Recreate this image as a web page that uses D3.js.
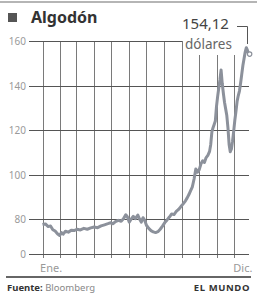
<!DOCTYPE html>
<html><head><meta charset="utf-8">
<script src="https://cdn.jsdelivr.net/npm/d3@7"></script>
<style>
html,body{margin:0;padding:0;background:#fff;}
svg{display:block;}
text{font-family:"Noto Sans","Open Sans",sans-serif;}
</style></head>
<body>
<svg id="c" width="257" height="302"></svg>
<script>
const title = "Algodón";
const endLabel = "154,12";
const unitLabel = "dólares";
const source = "Bloomberg";
const brand = "EL MUNDO";
const tickValues = [0, 80, 100, 120, 140, 160];
const monthLabels = [{date:"2010-01-16", text:"Ene."}, {date:"2010-12-16", text:"Dic."}];
const dates = ["2010-01-01","2010-01-06","2010-01-11","2010-01-15","2010-01-19","2010-01-23","2010-01-27","2010-01-31","2010-02-03","2010-02-06","2010-02-10","2010-02-15","2010-02-20","2010-02-25","2010-03-02","2010-03-08","2010-03-14","2010-03-20","2010-03-26","2010-04-01","2010-04-07","2010-04-13","2010-04-19","2010-04-25","2010-04-29","2010-05-04","2010-05-08","2010-05-13","2010-05-18","2010-05-22","2010-05-26","2010-05-29","2010-06-01","2010-06-04","2010-06-08","2010-06-12","2010-06-16","2010-06-19","2010-06-22","2010-06-25","2010-06-28","2010-07-01","2010-07-05","2010-07-09","2010-07-13","2010-07-17","2010-07-21","2010-07-25","2010-07-29","2010-08-02","2010-08-06","2010-08-10","2010-08-14","2010-08-18","2010-08-22","2010-08-26","2010-08-30","2010-09-03","2010-09-07","2010-09-10","2010-09-13","2010-09-16","2010-09-19","2010-09-22","2010-09-25","2010-09-28","2010-10-01","2010-10-04","2010-10-07","2010-10-10","2010-10-13","2010-10-16","2010-10-19","2010-10-21","2010-10-23","2010-10-25","2010-10-27","2010-10-29","2010-10-31","2010-11-02","2010-11-04","2010-11-06","2010-11-08","2010-11-10","2010-11-12","2010-11-14","2010-11-16","2010-11-18","2010-11-20","2010-11-22","2010-11-24","2010-11-26","2010-11-28","2010-11-30","2010-12-02","2010-12-04","2010-12-06","2010-12-08","2010-12-10","2010-12-12","2010-12-14","2010-12-16","2010-12-18","2010-12-20","2010-12-22","2010-12-24","2010-12-26"];
const prices = [77.5,77.8,76.6,76.9,75.2,74.6,73.4,72.6,73.9,73.2,74.5,74.1,75.0,74.8,75.4,75.1,75.8,75.4,76.0,76.4,76.1,76.9,77.4,77.9,78.3,77.9,78.8,79.4,79.0,80.1,81.9,80.9,78.6,79.8,81.2,80.2,81.8,80.0,78.6,80.6,79.4,77.2,75.8,74.8,74.2,73.9,74.3,75.4,76.8,78.4,79.6,80.9,82.3,82.0,83.4,84.3,85.6,86.8,88.2,89.5,91.0,92.8,94.5,98.0,102.5,101.0,102.2,104.8,106.2,105.4,107.6,108.6,110.4,113.5,119.2,121.0,122.5,124.0,130.5,135.0,138.9,142.5,147.0,141.0,136.5,132.5,129.5,126.5,121.0,113.5,110.2,111.5,115.0,119.5,124.5,128.5,133.0,135.5,137.5,141.0,145.0,149.0,152.0,155.0,157.0,155.8,154.12];

const parse = d3.timeParse("%Y-%m-%d");
const data = dates.map((d,i)=>({date:parse(d), value:prices[i]}));

const svg = d3.select("#c");
const x = d3.scaleTime().domain([parse("2010-01-01"), parse("2010-12-31")]).range([42.5, 251.5]);
// broken axis: 0 sits just below the compressed bottom of the scale
const y = d3.scaleLinear().domain([0, 65, 160]).range([254, 252.4, 41]);

// top rule
svg.append("line").attr("x1",0).attr("x2",257).attr("y1",2).attr("y2",2).attr("stroke","#b5b5b5").attr("stroke-width",2);

// title
svg.append("rect").attr("x",8).attr("y",13).attr("width",9).attr("height",9).attr("fill","#555");
svg.append("text").attr("x",31).attr("y",23).attr("font-size",16).attr("font-weight","bold").attr("fill","#333").text(title);

// vertical grid (month starts)
const months = d3.timeMonths(parse("2010-01-01"), parse("2010-12-31"));
svg.append("g").selectAll("line").data(months).join("line")
  .attr("x1",d=>Math.round(x(d))+0.5).attr("x2",d=>Math.round(x(d))+0.5)
  .attr("y1",y(160)).attr("y2",258)
  .attr("stroke","#7a7a7a").attr("stroke-width",1);

// horizontal grid + y labels
const gy = svg.append("g");
tickValues.forEach(v=>{
  const yy = Math.round(y(v))+0.5;
  gy.append("line").attr("x1",29).attr("x2",v===160?182:249).attr("y1",yy).attr("y2",yy)
    .attr("stroke","#555").attr("stroke-width",1);
  gy.append("text").attr("x",26).attr("y",yy+3.5).attr("text-anchor","end")
    .attr("font-size",10).attr("fill","#9a9a9a").text(v);
});

// white box behind unit label
svg.append("rect").attr("x",183).attr("y",32).attr("width",57).attr("height",23).attr("fill","#fff");

// x labels
svg.append("g").selectAll("text").data(monthLabels).join("text")
  .attr("x",d=>x(parse(d.date))).attr("y",272).attr("text-anchor","middle")
  .attr("font-size",11).attr("fill","#999").text(d=>d.text);

// price line
const line = d3.line().x(d=>x(d.date)).y(d=>y(d.value)).curve(d3.curveLinear);
svg.append("path").datum(data).attr("d",line).attr("fill","none")
  .attr("stroke","#8c919b").attr("stroke-width",3).attr("stroke-linejoin","round");

const last = data[data.length-1];
svg.append("circle").attr("cx",x(last.date)+1).attr("cy",y(last.value)).attr("r",2.2)
  .attr("fill","#fff").attr("stroke","#8c919b").attr("stroke-width",1.2);

// annotation
svg.append("text").attr("x",182).attr("y",29).attr("font-size",15).attr("fill","#444").text(endLabel);
svg.append("text").attr("x",185).attr("y",49).attr("font-size",13.5).attr("fill","#666").text(unitLabel);
svg.append("path").attr("d",`M237,26.5H247.5V44`).attr("fill","none").attr("stroke","#555").attr("stroke-width",1);

// footer
svg.append("line").attr("x1",6).attr("x2",251).attr("y1",277).attr("y2",277).attr("stroke","#666").attr("stroke-width",2);
const ft = svg.append("text").attr("x",7).attr("y",291).attr("font-size",9.5);
ft.append("tspan").attr("font-weight","bold").attr("fill","#333").text("Fuente:");
ft.append("tspan").attr("fill","#888").text(" " + source);
svg.append("text").attr("x",250).attr("y",291).attr("text-anchor","end").attr("font-size",9.5)
  .attr("font-weight","bold").attr("letter-spacing",0.6).attr("fill","#333").text(brand);
</script>
</body></html>
